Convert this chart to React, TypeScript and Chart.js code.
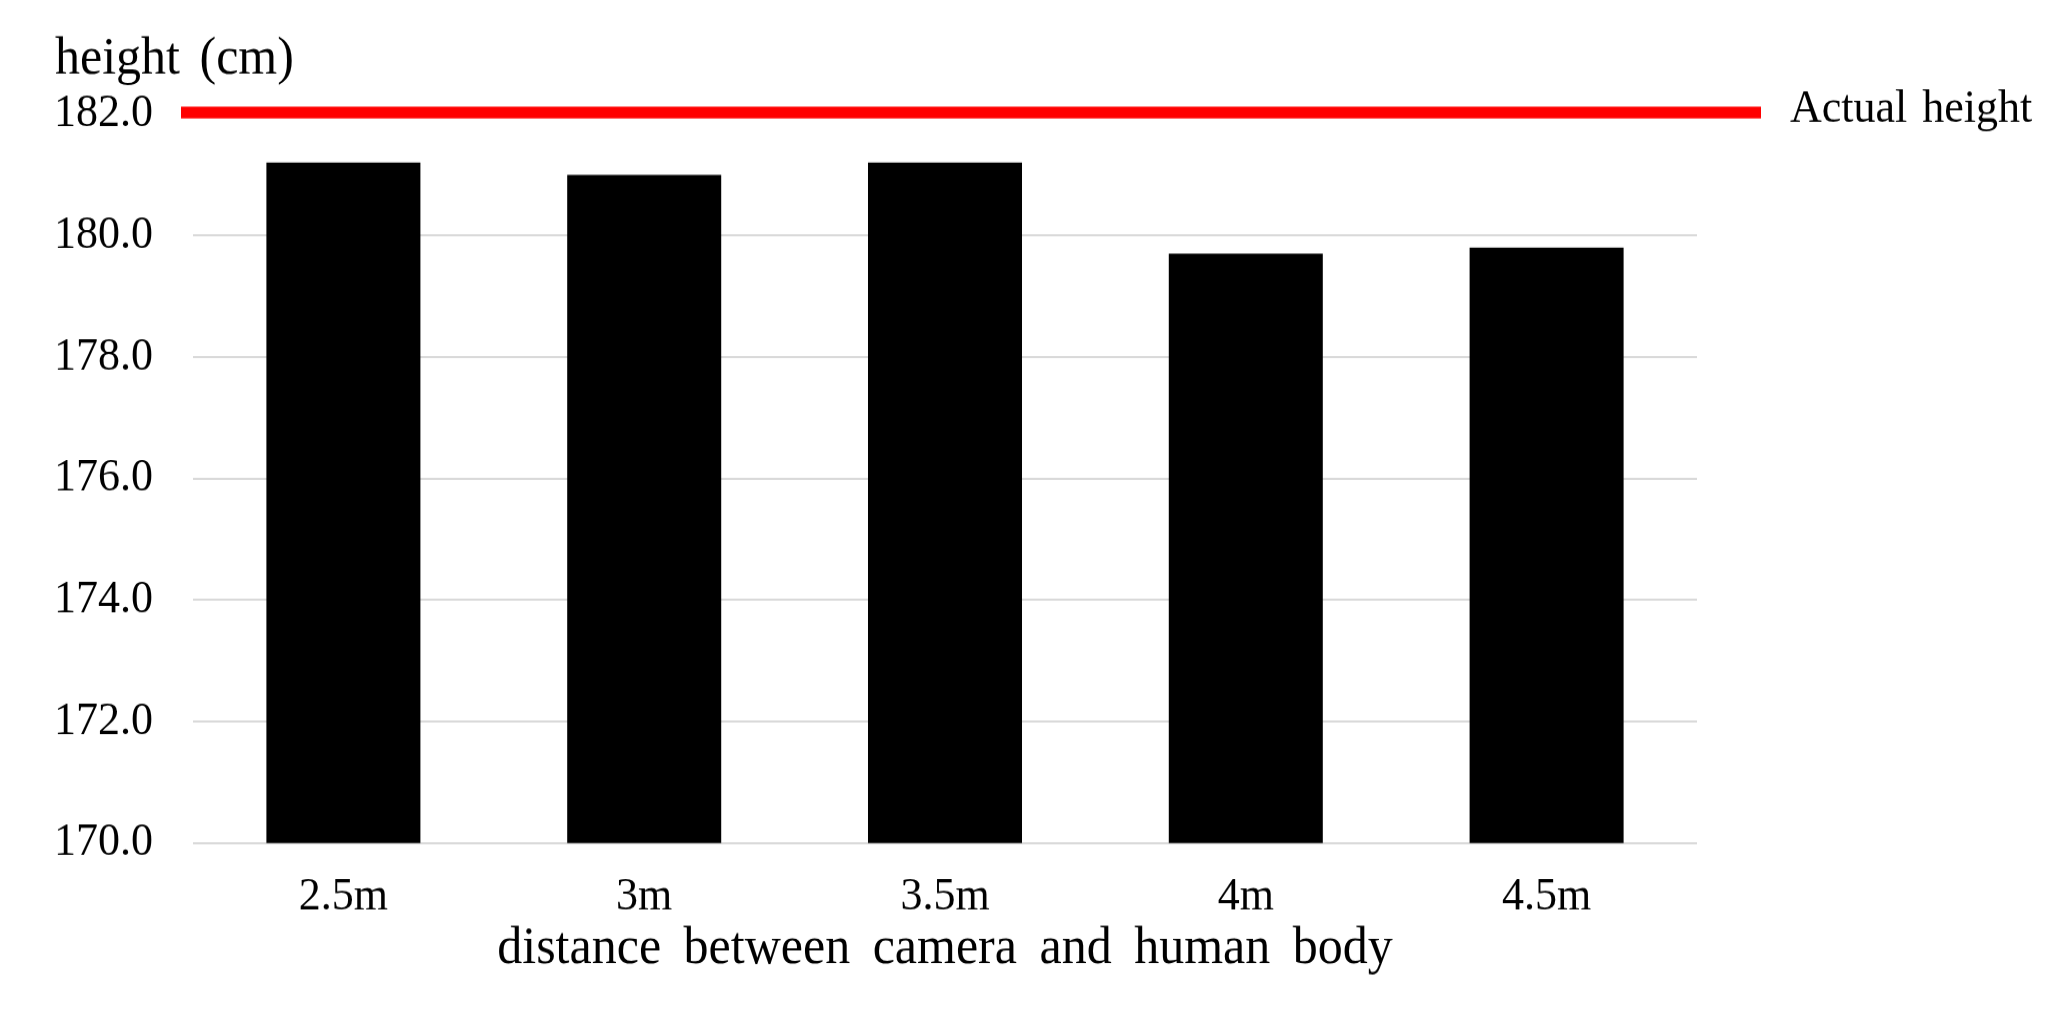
import React, { useEffect, useRef } from "react";
import { Chart, registerables } from "chart.js";

Chart.register(...registerables);

// ---- data ----
const categories = ["2.5m", "3m", "3.5m", "4m", "4.5m"];
const measuredHeights = [181.2, 181.0, 181.2, 179.7, 179.8];
const actualHeight = 182.0;
const yTickValues = [170, 172, 174, 176, 178, 180, 182];
const yAxisTitle = "height (cm)";
const xAxisTitle = "distance between camera and human body";
const actualLabel = "Actual height";

const FONT = "'Liberation Serif', 'Times New Roman', Times, serif";

// the reference's text is slightly taller than wide: draw into a canvas that
// is a little shorter and stretch it vertically with CSS
const W = 2070;
const H = 1026;
const S = 1.05;
const IH = Math.round(H / S);
const v = (px: number) => px / S;

const overlayPlugin = {
  id: "overlay",
  beforeDraw(chart: any) {
    try {
      chart.ctx.wordSpacing = "10px";
    } catch (e) {}
  },
  afterDatasetsDraw(chart: any) {
    const ctx = chart.ctx;
    const area = chart.chartArea;
    const y = chart.scales.y.getPixelForValue(actualHeight);
    ctx.save();
    ctx.strokeStyle = "#ff0000";
    ctx.lineWidth = v(12);
    ctx.lineCap = "butt";
    ctx.beginPath();
    ctx.moveTo(area.left - 12, y - v(1.5));
    ctx.lineTo(area.right + 64, y - v(1.5));
    ctx.stroke();

    ctx.fillStyle = "#000000";
    ctx.textAlign = "left";
    ctx.textBaseline = "alphabetic";
    try {
      ctx.wordSpacing = "4px";
    } catch (e) {}
    ctx.font = `44px ${FONT}`;
    ctx.fillText(actualLabel, area.right + 93, y + v(8));

    try {
      ctx.wordSpacing = "7px";
    } catch (e) {}
    ctx.font = `50px ${FONT}`;
    ctx.fillText(yAxisTitle, 55, y - v(41));
    ctx.restore();
  },
};

export default function App() {
  const canvasRef = useRef<HTMLCanvasElement | null>(null);

  useEffect(() => {
    document.body.style.margin = "0";
    document.body.style.overflow = "hidden";
    const canvas = canvasRef.current;
    if (!canvas) return;
    const chart = new Chart(canvas, {
      type: "bar",
      data: {
        labels: categories,
        datasets: [
          {
            label: "measured height",
            data: measuredHeights,
            backgroundColor: "#000000",
            borderWidth: 0,
            barPercentage: 0.512,
            categoryPercentage: 1.0,
          },
        ],
      },
      options: {
        responsive: false,
        animation: false,
        devicePixelRatio: 1,
        layout: {
          padding: { left: 0, right: 373, top: v(114), bottom: v(45) },
        },
        plugins: {
          legend: { display: false },
          tooltip: { enabled: false },
          title: { display: false },
        },
        scales: {
          x: {
            grid: { display: false, drawTicks: false },
            border: { display: false },
            ticks: {
              color: "#000000",
              font: { family: FONT, size: 44 },
              padding: v(27),
              maxRotation: 0,
            },
            title: {
              display: true,
              text: xAxisTitle,
              color: "#000000",
              font: { family: FONT, size: 50 },
              padding: { top: 0, bottom: 0 },
            },
            afterFit(scale: any) {
              scale.height = v(138);
            },
          },
          y: {
            min: yTickValues[0],
            max: yTickValues[yTickValues.length - 1],
            grid: {
              color: "#d9d9d9",
              lineWidth: 2,
              drawTicks: false,
            },
            border: { display: false },
            ticks: {
              stepSize: 2,
              color: "#000000",
              font: { family: FONT, size: 44 },
              padding: 40,
              callback: (val: any) => Number(val).toFixed(1),
            },
            afterFit(scale: any) {
              scale.width = 193;
            },
          },
        },
      },
      plugins: [overlayPlugin],
    });
    return () => chart.destroy();
  }, []);

  return (
    <div style={{ width: W, height: H, background: "#ffffff" }}>
      <canvas
        ref={canvasRef}
        width={W}
        height={IH}
        style={{ display: "block", width: W, height: H }}
      />
    </div>
  );
}
